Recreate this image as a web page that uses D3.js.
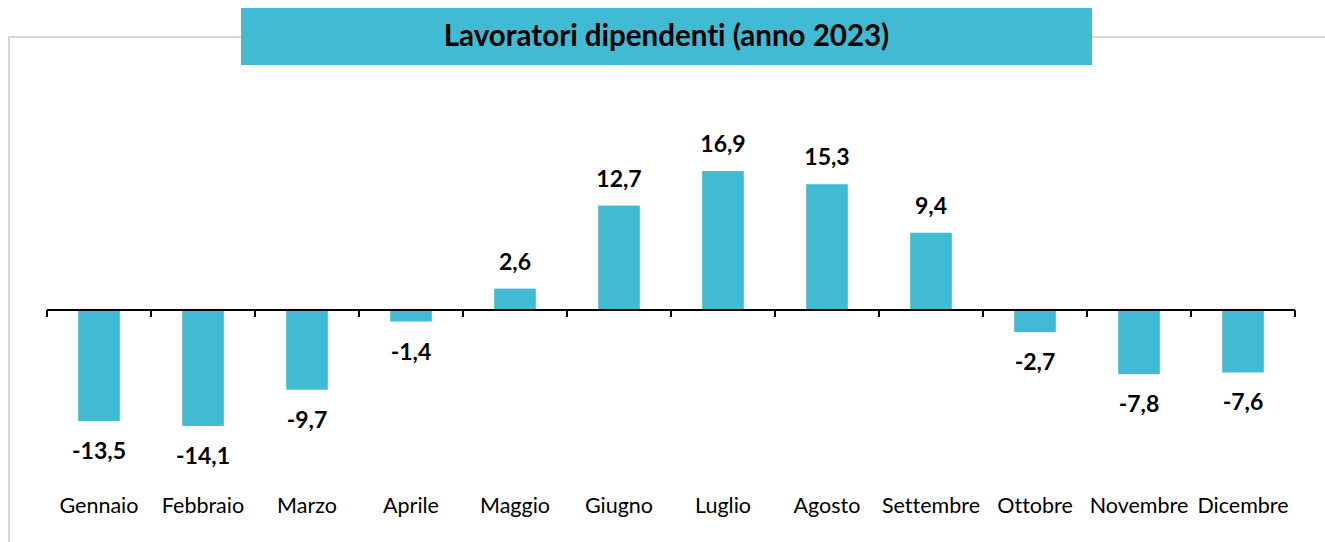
<!DOCTYPE html>
<html>
<head>
<meta charset="utf-8">
<script src="https://cdn.jsdelivr.net/npm/d3@7"></script>
<style>
  html, body { margin: 0; padding: 0; background: #fff; }
  svg { display: block; }
  text { font-variant-ligatures: none; font-feature-settings: "liga" 0, "clig" 0; }
</style>
</head>
<body>
<svg id="chart" width="1325" height="542"></svg>
<script>
const title = "Lavoratori dipendenti (anno 2023)";
const months = ["Gennaio","Febbraio","Marzo","Aprile","Maggio","Giugno","Luglio","Agosto","Settembre","Ottobre","Novembre","Dicembre"];
const values = [-13.5, -14.1, -9.7, -1.4, 2.6, 12.7, 16.9, 15.3, 9.4, -2.7, -7.8, -7.6];

const barColor = "#41BAD3";
const fontFam = "Lato, 'Open Sans', sans-serif";
const svg = d3.select("#chart");

// outer border (light gray frame)
svg.append("rect")
  .attr("x", 9).attr("y", 37)
  .attr("width", 1340).attr("height", 540)
  .attr("fill", "none")
  .attr("stroke", "#d9d9d9")
  .attr("stroke-width", 2);

// title box
svg.append("rect")
  .attr("x", 241).attr("y", 8)
  .attr("width", 851).attr("height", 57)
  .attr("fill", barColor);
svg.append("text")
  .attr("x", 241 + 851 / 2).attr("y", 46)
  .attr("text-anchor", "middle")
  .attr("font-family", fontFam)
  .attr("font-weight", "bold")
  .attr("font-size", 29.5)
  .attr("fill", "#000")
  .text(title);

const x = d3.scaleBand()
  .domain(months)
  .range([47, 1295])
  .paddingInner(0.6)
  .paddingOuter(0.3);

const y = d3.scaleLinear()
  .domain([-20, 20])
  .range([310 + 20 * 8.22, 310 - 20 * 8.22]);

const fmt = v => d3.format(".1f")(v).replace(".", ",").replace("−", "-");

// bars
svg.append("g").selectAll("rect")
  .data(values)
  .join("rect")
  .attr("x", (d, i) => x(months[i]))
  .attr("width", x.bandwidth())
  .attr("y", d => y(Math.max(0, d)))
  .attr("height", d => Math.abs(y(d) - y(0)))
  .attr("fill", barColor);

// value labels
svg.append("g").selectAll("text")
  .data(values)
  .join("text")
  .attr("x", (d, i) => x(months[i]) + x.bandwidth() / 2)
  .attr("y", d => d >= 0 ? y(d) - 19 : y(d) + 38)
  .attr("text-anchor", "middle")
  .attr("font-family", fontFam)
  .attr("font-weight", "bold")
  .attr("font-size", 23)
  .attr("fill", "#000")
  .text(d => fmt(d));

// zero axis with ticks at band boundaries
const step = x.step();
const x0 = x.range()[0];
const axisG = svg.append("g");
axisG.append("line")
  .attr("x1", x0).attr("x2", x.range()[1])
  .attr("y1", y(0)).attr("y2", y(0))
  .attr("stroke", "#000").attr("stroke-width", 2);
axisG.selectAll("line.tick")
  .data(d3.range(months.length + 1))
  .join("line")
  .attr("class", "tick")
  .attr("x1", i => x0 + i * step).attr("x2", i => x0 + i * step)
  .attr("y1", y(0)).attr("y2", y(0) + 7)
  .attr("stroke", "#000").attr("stroke-width", 2);

// category labels
svg.append("g").selectAll("text")
  .data(months)
  .join("text")
  .attr("x", d => x(d) + x.bandwidth() / 2)
  .attr("y", 513)
  .attr("text-anchor", "middle")
  .attr("font-family", fontFam)
  .attr("font-size", 21.5)
  .attr("fill", "#000")
  .text(d => d);
</script>
</body>
</html>
